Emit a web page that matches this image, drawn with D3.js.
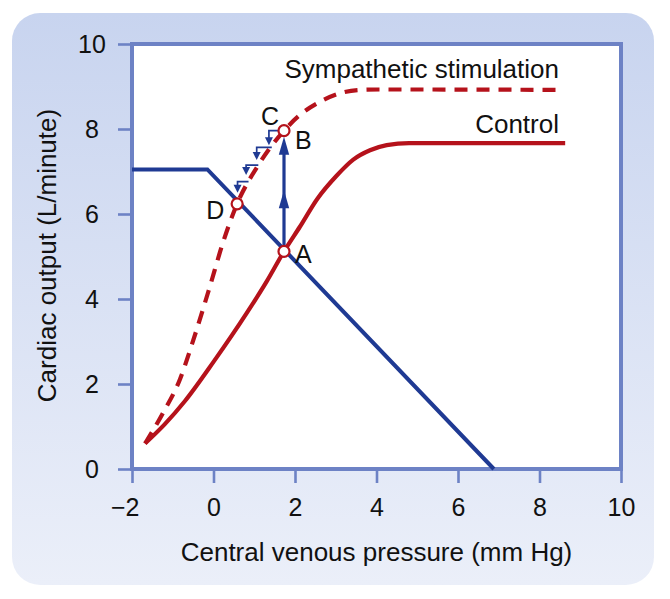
<!DOCTYPE html>
<html>
<head>
<meta charset="utf-8">
<script src="https://cdn.jsdelivr.net/npm/d3@7"></script>
<style>
  html, body { margin: 0; padding: 0; background: #ffffff; }
  svg { display: block; }
  text { font-family: "Liberation Sans", Arial, Helvetica, sans-serif; fill: #111; }
</style>
</head>
<body>
<svg id="chart" width="670" height="599"></svg>
<script>
// ---- Data ----
const xTicks = [-2, 0, 2, 4, 6, 8, 10];
const yTicks = [0, 2, 4, 6, 8, 10];
const xTitle = "Central venous pressure (mm Hg)";
const yTitle = "Cardiac output (L/minute)";

// venous return curve (CVP, CO)
const venousReturn = [[-2, 7.05], [-0.15, 7.05], [6.88, 0]];

// cardiac function curve, control
const controlCurve = [
  [-1.68, 0.6], [-1.2, 1.05], [-0.7, 1.6], [0, 2.52], [0.81, 3.66], [1.31, 4.42],
  [1.73, 5.12], [2.12, 5.7], [2.55, 6.36], [3.02, 6.9], [3.43, 7.28],
  [3.84, 7.5], [4.25, 7.62], [4.8, 7.67], [8.63, 7.67]
];

// cardiac function curve, sympathetic stimulation
const sympCurve = [
  [-1.68, 0.6], [-1.25, 1.3], [-0.82, 2.12], [-0.5, 3.02], [-0.09, 4.29],
  [0.24, 5.35], [0.58, 6.24], [1.1, 7.15], [1.73, 7.96], [2.12, 8.33],
  [2.61, 8.64], [3.1, 8.84], [3.6, 8.92], [4.09, 8.93], [8.6, 8.92]
];

// equilibrium points
const eqPoints = [
  { name: "A", x: 1.73, y: 5.12 },
  { name: "B", x: 1.73, y: 7.96 },
  { name: "D", x: 0.58, y: 6.24 }
];

// staircase B -> D : horizontal at y from x0 to x1, then down to yEnd
const steps = [
  { y: 7.96, x0: 1.65, x1: 1.36, yEnd: 7.62 },
  { y: 7.57, x0: 1.43, x1: 1.06, yEnd: 7.27 },
  { y: 7.15, x0: 1.10, x1: 0.80, yEnd: 6.92 },
  { y: 6.76, x0: 0.86, x1: 0.59, yEnd: 6.50 }
];

// big arrow A -> B with two arrowhead tips
const riseArrow = { x: 1.73, yFrom: 5.12, yTo: 7.82, heads: [6.56, 7.82] };

// ---- Drawing ----
const RED = "#b5121b", BLUE = "#1f3a93", FRAME = "#6d82c5";
const svg = d3.select("#chart");

const defs = svg.append("defs");
const grad = defs.append("linearGradient").attr("id", "bg").attr("x1", 0).attr("y1", 0).attr("x2", 0).attr("y2", 1);
grad.append("stop").attr("offset", "0%").attr("stop-color", "#c8d4ef");
grad.append("stop").attr("offset", "100%").attr("stop-color", "#ebeff9");

svg.append("rect").attr("x", 12).attr("y", 13).attr("width", 642).attr("height", 572)
  .attr("rx", 28).attr("fill", "url(#bg)");

const L = 132, R = 621, T = 44, B = 469;
const x = d3.scaleLinear().domain([-2, 10]).range([L, R]);
const y = d3.scaleLinear().domain([0, 10]).range([B, T]);

svg.append("rect").attr("x", L).attr("y", T).attr("width", R - L).attr("height", B - T)
  .attr("fill", "#ffffff");

// axes
const yAxis = svg.append("g").attr("transform", `translate(${L},0)`)
  .call(d3.axisLeft(y).tickValues(yTicks).tickSize(14).tickSizeOuter(0).tickFormat(d3.format("d")));
const xAxis = svg.append("g").attr("transform", `translate(0,${B})`)
  .call(d3.axisBottom(x).tickValues(xTicks).tickSize(14).tickSizeOuter(0)
    .tickFormat(d => d < 0 ? "\u2212" + Math.abs(d) : String(d)));

[yAxis, xAxis].forEach(g => {
  g.select(".domain").remove();
  g.selectAll(".tick line").attr("stroke", FRAME).attr("stroke-width", 2.6);
  g.selectAll(".tick text").attr("font-size", 25).attr("fill", "#111")
    .style("font-family", '"Liberation Sans", Arial, Helvetica, sans-serif');
});
yAxis.selectAll(".tick text").attr("x", -40).attr("dy", "0.35em").attr("text-anchor", "middle");
xAxis.selectAll(".tick text").attr("y", 47).attr("dy", 0).attr("text-anchor", "middle")
  .attr("dx", d => d < 0 ? "-0.292em" : 0);

// frame
svg.append("rect").attr("x", L).attr("y", T).attr("width", R - L).attr("height", B - T)
  .attr("fill", "none").attr("stroke", FRAME).attr("stroke-width", 4);

// axis titles
svg.append("text").attr("x", (L + R) / 2).attr("y", 561).attr("text-anchor", "middle")
  .attr("font-size", 26).text(xTitle);
svg.append("text").attr("transform", `translate(56,${(108 + 403) / 2}) rotate(-90)`)
  .attr("text-anchor", "middle").attr("font-size", 26).text(yTitle);

const line = d3.line().x(d => x(d[0])).y(d => y(d[1]));
const smooth = d3.line().x(d => x(d[0])).y(d => y(d[1])).curve(d3.curveMonotoneX);

// venous return
svg.append("path").attr("d", line(venousReturn)).attr("fill", "none")
  .attr("stroke", BLUE).attr("stroke-width", 4);

// control curve
svg.append("path").attr("d", smooth(controlCurve)).attr("fill", "none")
  .attr("stroke", RED).attr("stroke-width", 4.2);

// sympathetic curve
svg.append("path").attr("d", smooth(sympCurve)).attr("fill", "none")
  .attr("stroke", RED).attr("stroke-width", 4.2).attr("stroke-dasharray", "13,9");

// arrowhead helper (tip at px,py; dir: +1 down, -1 up)
function head(px, py, dir, len, hw) {
  return `M${px},${py} L${px - hw},${py - dir * len} L${px + hw},${py - dir * len} Z`;
}

// staircase
const stair = svg.append("g");
steps.forEach(s => {
  stair.append("path")
    .attr("d", `M${x(s.x0)},${y(s.y)} H${x(s.x1)} V${y(s.yEnd) - 5}`)
    .attr("fill", "none").attr("stroke", BLUE).attr("stroke-width", 1.7);
  stair.append("path").attr("d", head(x(s.x1), y(s.yEnd), 1, 8, 4)).attr("fill", BLUE);
});

// rise arrow A -> B
svg.append("line").attr("x1", x(riseArrow.x)).attr("x2", x(riseArrow.x))
  .attr("y1", y(riseArrow.yFrom)).attr("y2", y(riseArrow.yTo) + 8)
  .attr("stroke", BLUE).attr("stroke-width", 3.2);
riseArrow.heads.forEach(h => {
  svg.append("path").attr("d", head(x(riseArrow.x), y(h), -1, 18, 5.2)).attr("fill", BLUE);
});

// points
svg.selectAll("circle.eq").data(eqPoints).join("circle").attr("class", "eq")
  .attr("cx", d => x(d.x)).attr("cy", d => y(d.y)).attr("r", 5.5)
  .attr("fill", "#fff").attr("stroke", RED).attr("stroke-width", 2.2);

// point labels
const labelOffsets = { A: [11, 12], B: [11, 18], D: [-31, 15] };
eqPoints.forEach(p => {
  const o = labelOffsets[p.name];
  svg.append("text").attr("x", x(p.x) + o[0]).attr("y", y(p.y) + o[1])
    .attr("font-size", 25).text(p.name);
});
const bPt = eqPoints.find(p => p.name === "B");
svg.append("text").attr("x", x(bPt.x) - 23).attr("y", y(bPt.y) - 6)
  .attr("font-size", 25).text("C");

// curve labels
svg.append("text").attr("x", 559).attr("y", 78).attr("text-anchor", "end")
  .attr("font-size", 26).text("Sympathetic stimulation");
svg.append("text").attr("x", 559).attr("y", 133).attr("text-anchor", "end")
  .attr("font-size", 26).text("Control");
</script>
</body>
</html>
